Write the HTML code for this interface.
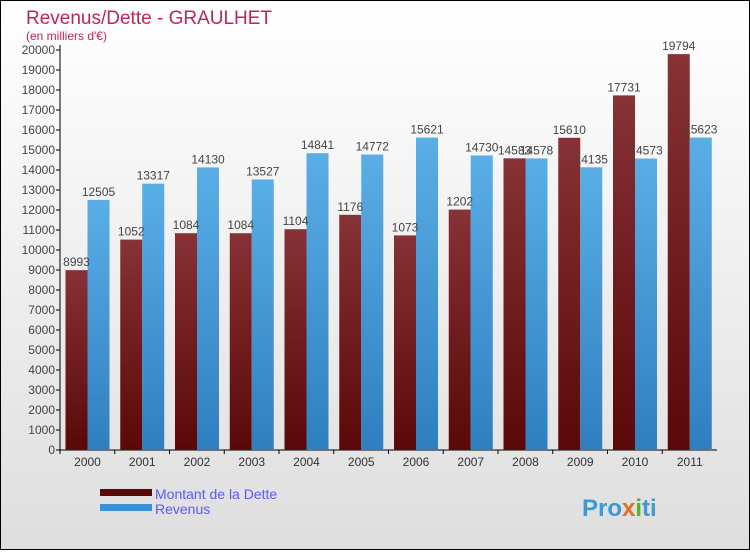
<!DOCTYPE html>
<html><head><meta charset="utf-8"><style>
body{margin:0;width:750px;height:550px;overflow:hidden;font-family:"Liberation Sans",sans-serif}
svg text{font-family:"Liberation Sans",sans-serif}
</style></head><body>
<svg id="c" width="750" height="550" xmlns="http://www.w3.org/2000/svg">
<defs>
<linearGradient id="bg" x1="0" y1="0" x2="0" y2="1"><stop offset="0" stop-color="#ffffff"/><stop offset="1" stop-color="#dedede"/></linearGradient>
<linearGradient id="gd" x1="0" y1="0" x2="0" y2="1"><stop offset="0" stop-color="#873236"/><stop offset="1" stop-color="#5a0808"/></linearGradient>
<linearGradient id="gr" x1="0" y1="0" x2="0" y2="1"><stop offset="0" stop-color="#5aaee6"/><stop offset="1" stop-color="#2f7fc0"/></linearGradient>
</defs>
<rect x="0.5" y="0.5" width="749" height="549" fill="url(#bg)" stroke="#000"/>
<text x="26" y="24" font-size="19" fill="#c0245c">Revenus/Dette - GRAULHET</text>
<text x="26" y="40" font-size="12" fill="#c0245c">(en milliers d'€)</text>
<g id="plot"></g>
<rect x="100" y="489" width="52" height="7" fill="#5a0808"/>
<text x="155" y="499" font-size="14" fill="#5a5aff">Montant de la Dette</text>
<rect x="100" y="504" width="52" height="7" fill="#3d8fd6"/>
<text x="155" y="514" font-size="14" fill="#5a5aff">Revenus</text>
<text x="582" y="516" font-size="24" font-weight="bold" fill="#3a9ad8">Pro<tspan fill="#e07020">x</tspan><tspan fill="#5ab030">i</tspan>ti</text>
</svg>
<script>
const years=["2000","2001","2002","2003","2004","2005","2006","2007","2008","2009","2010","2011"];
const dette=[8993,10520,10840,10840,11040,11760,10730,12020,14583,15610,17731,19794];
const detteLabels=["8993","1052","1084","1084","1104","1176","1073","1202","14583","15610","17731","19794"];
const revenus=[12505,13317,14130,13527,14841,14772,15621,14730,14578,14135,14573,15623];
const yTicks=[0,1000,2000,3000,4000,5000,6000,7000,8000,9000,10000,11000,12000,13000,14000,15000,16000,17000,18000,19000,20000];
const NS="http://www.w3.org/2000/svg";
const g=document.getElementById('plot');
const x0=60,x1=717,yTop=50,yBot=450,maxV=20000;
const band=(x1-x0)/years.length;
const y=v=>yBot-(v/maxV)*(yBot-yTop);
const bx=i=>x0+i*band+5.5;
const bw=22;
function mk(t,a){const e=document.createElementNS(NS,t);for(const k in a)e.setAttribute(k,a[k]);g.appendChild(e);return e;}
let ax=mk('line',{x1:x0,y1:yTop-5,x2:x0,y2:yBot,stroke:'#000'});


let bxl=mk('line',{x1:x0,y1:yBot,x2:x1,y2:yBot,stroke:'#000'});


yTicks.forEach(v=>{
 let l=mk('line',{x1:x0-4,y1:y(v),x2:x0,y2:y(v),stroke:'#000'});
 
 
 let t=mk('text',{x:x0-5,y:y(v)+4,'font-size':'12','text-anchor':'end',fill:'#444'});t.textContent=v;
 
 
});
years.forEach((yr,i)=>{
 let tk=mk('line',{x1:x0+i*band,y1:yBot,x2:x0+i*band,y2:yBot+4,stroke:'#000'});
 
 
 let r1=mk('rect',{x:bx(i),y:y(dette[i]),width:bw,height:yBot-y(dette[i]),fill:'url(#gd)'});
 
 
 let r2=mk('rect',{x:bx(i)+bw,y:y(revenus[i]),width:bw,height:yBot-y(revenus[i]),fill:'url(#gr)'});
 
 
 let t1=mk('text',{x:bx(i)+bw/2,y:y(dette[i])-4,'font-size':'12','text-anchor':'middle',fill:'#444'});t1.textContent=detteLabels[i];
 
 
 let t2=mk('text',{x:bx(i)+bw*1.5,y:y(revenus[i])-4,'font-size':'12','text-anchor':'middle',fill:'#444'});t2.textContent=revenus[i];
 
 
 let xl=mk('text',{x:bx(i)+bw,y:yBot+16,'font-size':'12','text-anchor':'middle',fill:'#333'});xl.textContent=yr;
 
 
});
</script>
</body></html>
